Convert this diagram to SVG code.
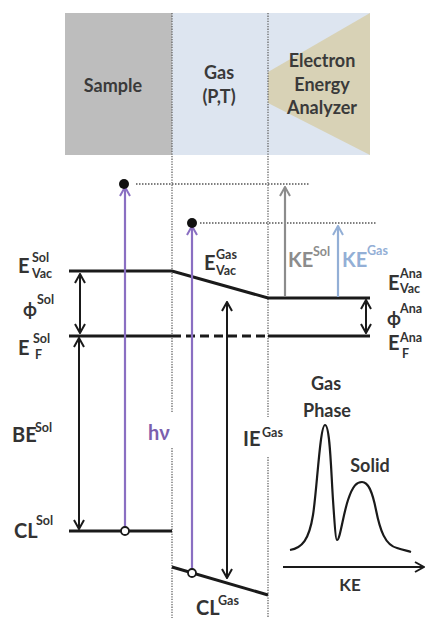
<svg xmlns="http://www.w3.org/2000/svg" width="427" height="618" viewBox="0 0 427 618">
<style>
text{font-family:Lato,"Liberation Sans",sans-serif;font-weight:700;fill:#333}
.big{font-size:20px}
.phi{font-size:18px}
.sm{font-size:12.5px}
.hdr{font-size:18px;text-anchor:middle;fill:#3a3a3a}
.lvl{stroke:#1a1a1a;stroke-width:3;fill:none}
.vdot{stroke:#666;stroke-width:1.3;stroke-dasharray:1.3 1.3;fill:none}
.hdot{stroke:#555;stroke-width:1.5;stroke-dasharray:1.5 1.5;fill:none}
</style>
<defs>
<marker id="mk" viewBox="0 0 12 12" refX="11" refY="6" markerWidth="12" markerHeight="12" markerUnits="userSpaceOnUse" orient="auto-start-reverse"><path d="M2,1 L11,6 L2,11" fill="none" stroke="#1a1a1a" stroke-width="2"/></marker>
<marker id="mp" viewBox="0 0 12 12" refX="11" refY="6" markerWidth="12" markerHeight="12" markerUnits="userSpaceOnUse" orient="auto-start-reverse"><path d="M2,1 L11,6 L2,11" fill="none" stroke="#8a6fc2" stroke-width="2"/></marker>
<marker id="mg" viewBox="0 0 12 12" refX="11" refY="6" markerWidth="12" markerHeight="12" markerUnits="userSpaceOnUse" orient="auto-start-reverse"><path d="M2,1 L11,6 L2,11" fill="none" stroke="#8c8c8c" stroke-width="2"/></marker>
<marker id="mb" viewBox="0 0 12 12" refX="11" refY="6" markerWidth="12" markerHeight="12" markerUnits="userSpaceOnUse" orient="auto-start-reverse"><path d="M2,1 L11,6 L2,11" fill="none" stroke="#93afd6" stroke-width="2"/></marker>
</defs>
<rect width="427" height="618" fill="#fff"/>
<g id="sample">
<rect x="65" y="13" width="107" height="142" fill="#bdbdbd"/>
<text class="hdr" x="113" y="92">Sample</text>
</g>
<g id="gas">
<rect x="172" y="13" width="96" height="142" fill="#dde5f0"/>
<text class="hdr" x="219" y="79">Gas</text>
<text class="hdr" x="219" y="103">(P,T)</text>
</g>
<g id="analyzer">
<rect x="268" y="13" width="102" height="142" fill="#dde5f0"/>
<polygon points="268,72 370,13 370,155 268,103" fill="#d8d2b6"/>
<text class="hdr" x="322" y="67">Electron</text>
<text class="hdr" x="322" y="91">Energy</text>
<text class="hdr" x="322" y="114">Analyzer</text>
</g>
<g id="boundaries">
<path class="vdot" d="M172,13 V413 M172,448 V618 M268,13 V417 M268,457 V618"/>
<path class="hdot" d="M136,184 H310 M200,223 H377"/>
</g>
<g id="levels">
<path class="lvl" d="M69,271 H172 L268,298 H370"/>
<path class="lvl" d="M69,336 H172 M268,336 H370"/>
<path class="lvl" d="M172,336 H268" stroke-dasharray="9 5"/>
<path class="lvl" d="M69,531 H172"/>
<path class="lvl" d="M172,567 L268,595"/>
</g>
<g id="connectors">
<line x1="125" y1="527" x2="125" y2="187" stroke="#8a6fc2" stroke-width="2.2" marker-end="url(#mp)"/>
<line x1="192" y1="569" x2="192" y2="226" stroke="#8a6fc2" stroke-width="2.2" marker-end="url(#mp)"/>
<line x1="80" y1="274" x2="80" y2="333" stroke="#1a1a1a" stroke-width="2" marker-start="url(#mk)" marker-end="url(#mk)"/>
<line x1="79" y1="338" x2="79" y2="529" stroke="#1a1a1a" stroke-width="2" marker-start="url(#mk)" marker-end="url(#mk)"/>
<line x1="227" y1="302" x2="227" y2="578" stroke="#1a1a1a" stroke-width="2" marker-start="url(#mk)" marker-end="url(#mk)"/>
<line x1="366" y1="300" x2="366" y2="333" stroke="#1a1a1a" stroke-width="2" marker-start="url(#mk)" marker-end="url(#mk)"/>
<line x1="285" y1="297" x2="285" y2="187" stroke="#8c8c8c" stroke-width="2.2" marker-end="url(#mg)"/>
<line x1="338" y1="297" x2="338" y2="226" stroke="#93afd6" stroke-width="2.2" marker-end="url(#mb)"/>
<line x1="283" y1="567" x2="424" y2="567" stroke="#1a1a1a" stroke-width="2" marker-end="url(#mk)"/>
</g>
<g id="electrons">
<circle cx="124" cy="184" r="5" fill="#111"/>
<circle cx="192" cy="223" r="5" fill="#111"/>
<circle cx="125" cy="531" r="4" fill="#fff" stroke="#1a1a1a" stroke-width="1.8"/>
<circle cx="192" cy="573" r="4" fill="#fff" stroke="#1a1a1a" stroke-width="1.8"/>
</g>
<g id="labels">
<text class="big" x="18" y="273">E</text><text class="sm" x="32" y="262">Sol</text><text class="sm" x="32" y="278">Vac</text>
<text class="phi" x="23" y="316">ϕ</text><text class="sm" x="37" y="304">Sol</text>
<text class="big" x="18" y="355">E</text><text class="sm" x="33" y="343">Sol</text><text class="sm" x="35" y="359">F</text>
<text class="big" x="12" y="442">BE</text><text class="sm" x="35" y="432">Sol</text>
<text class="big" x="14" y="538">CL</text><text class="sm" x="36" y="525">Sol</text>
<text class="big" x="148" y="440" style="fill:#7b60ad">hν</text>
<text class="big" x="204" y="270">E</text><text class="sm" x="216" y="259">Gas</text><text class="sm" x="216" y="275">Vac</text>
<text class="big" x="243" y="446">IE</text><text class="sm" x="262" y="437">Gas</text>
<text class="big" x="196" y="615">CL</text><text class="sm" x="218" y="605">Gas</text>
<text class="big" x="288" y="267" style="fill:#8c8c8c">KE</text><text class="sm" x="313" y="256" style="fill:#8c8c8c">Sol</text>
<text class="big" x="342" y="267" style="fill:#93afd6">KE</text><text class="sm" x="367" y="255" style="fill:#93afd6">Gas</text>
<text class="big" x="388" y="290">E</text><text class="sm" x="400" y="278">Ana</text><text class="sm" x="400" y="293">Vac</text>
<text class="phi" x="387" y="325">ϕ</text><text class="sm" x="400" y="313">Ana</text>
<text class="big" x="388" y="350">E</text><text class="sm" x="400" y="342">Ana</text><text class="sm" x="402" y="358">F</text>
</g>
<g id="spectrum">
<path d="M290,550 C302,548 309,540 313,515 C317,490 320,425 325,425 C330,425 331,470 333,500 C335,530 336,540 337,540 C340,540 343,515 348,500 C353,485 357,482 362,482 C368,482 372,490 376,510 C380,530 385,545 397,548 C403,550 408,551 411,552" fill="none" stroke="#1a1a1a" stroke-width="2.2"/>
<text class="hdr" x="326" y="390" style="fill:#333">Gas</text>
<text class="hdr" x="327" y="417" style="fill:#333">Phase</text>
<text class="hdr" x="370" y="472" style="fill:#333">Solid</text>
<text class="hdr" x="350" y="591" style="fill:#333;font-size:17px">KE</text>
</g>
</svg>
